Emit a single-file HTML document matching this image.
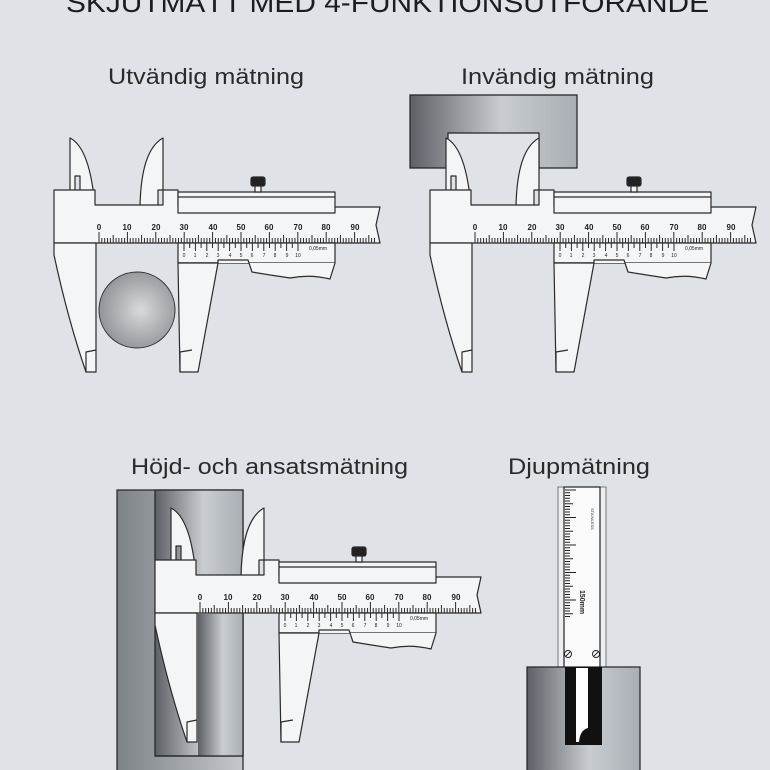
<!DOCTYPE html>
<html><head><meta charset="utf-8"><style>
html,body{margin:0;padding:0;background:#dfe3e7;}
svg{display:block;}
text{font-family:"Liberation Sans",sans-serif;}
</style></head><body>
<svg width="770" height="770" viewBox="0 0 770 770" xmlns="http://www.w3.org/2000/svg">
<defs>
<linearGradient id="gb" x1="0" x2="1" y1="0" y2="0">
<stop offset="0" stop-color="#5d6166"/><stop offset="0.55" stop-color="#c9cdd1"/><stop offset="1" stop-color="#a9aeb3"/></linearGradient>
<linearGradient id="gc" x1="0" x2="1" y1="0" y2="0">
<stop offset="0" stop-color="#7d8287"/><stop offset="1" stop-color="#c4c8cc"/></linearGradient>
<radialGradient id="ball" cx="0.55" cy="0.5" r="0.6">
<stop offset="0" stop-color="#d8dadc"/><stop offset="1" stop-color="#8a8e92"/></radialGradient>
<g id="cal" stroke="#2a2a2a" stroke-width="1.2" fill="#f4f5f6" stroke-linejoin="round">
<path d="M70,192 L70,138 Q90,148 95,207 L80,207 L80,176 L75,176 L75,192 Z"/>
<path d="M140,207 Q141,150 163,138 L163,190 L158,190 L158,207 Z"/>
<path d="M54,190 L95,190 L95,205 L163,205 L163,190 L178,190 L178,207 L380,207 L376,225 L380,243 L54,243 Z"/>
<rect x="178" y="192" width="157" height="21"/>
<line x1="178" y1="197" x2="335" y2="197"/>
<rect x="178" y="243" width="157" height="20"/>
<path d="M178,263 L218,263 L218,260 L248,260 L252,272 Q270,275 290,278 Q310,274 330,279 L335,263" fill="#f4f5f6"/>
<path d="M178,263 L218,263 L198,372 L180,372 Z"/>
<path class="fj" d="M54,243 L96,243 L96,372 L86,372 Q68,320 54,255 Z"/>
<path d="M86,372 L86,352 L96,350" fill="none"/>
<path d="M180,372 L180,352 L192,350" fill="none"/>
<rect x="251" y="177" width="14" height="9" rx="2" fill="#222"/>
<rect x="255" y="186" width="6" height="6" fill="#f4f5f6"/>
<path class="tk" stroke-width="1" fill="none"/>
</g>
</defs>

<text x="66" y="12" font-size="28" fill="#1d1d1f" textLength="643" lengthAdjust="spacingAndGlyphs">SKJUTMÅTT MED 4-FUNKTIONSUTFÖRANDE</text>
<text x="108" y="84" font-size="22" fill="#2a2a2a" textLength="196" lengthAdjust="spacingAndGlyphs">Utvändig mätning</text>
<text x="461" y="84" font-size="22" fill="#2a2a2a" textLength="193" lengthAdjust="spacingAndGlyphs">Invändig mätning</text>
<text x="131" y="474" font-size="22" fill="#2a2a2a" textLength="277" lengthAdjust="spacingAndGlyphs">Höjd- och ansatsmätning</text>
<text x="508" y="474" font-size="22" fill="#2a2a2a" textLength="142" lengthAdjust="spacingAndGlyphs">Djupmätning</text>

<!-- panel 1 -->
<use href="#cal"/>
<circle cx="137" cy="310" r="38" fill="url(#ball)" stroke="#333" stroke-width="1"/>
<g font-size="8" font-weight="bold" fill="#222" text-anchor="middle">
<text x="99" y="230">0</text><text x="127" y="230">10</text><text x="156" y="230">20</text><text x="184" y="230">30</text><text x="213" y="230">40</text><text x="241" y="230">50</text><text x="269" y="230">60</text><text x="298" y="230">70</text><text x="326" y="230">80</text><text x="355" y="230">90</text>
<g font-size="5" font-weight="normal"><text x="184" y="257">0</text><text x="195" y="257">1</text><text x="207" y="257">2</text><text x="218" y="257">3</text><text x="230" y="257">4</text><text x="241" y="257">5</text><text x="252" y="257">6</text><text x="264" y="257">7</text><text x="275" y="257">8</text><text x="287" y="257">9</text><text x="298" y="257">10</text><text x="318" y="250">0,05mm</text></g>
</g>

<!-- panel 2 -->
<path d="M410,95 L577,95 L577,168 L539,168 L539,133 L448,133 L448,168 L410,168 Z" fill="url(#gb)" stroke="#222" stroke-width="1.2"/>
<use href="#cal" transform="translate(376,0)"/>
<g font-size="8" font-weight="bold" fill="#222" text-anchor="middle" transform="translate(376,0)">
<text x="99" y="230">0</text><text x="127" y="230">10</text><text x="156" y="230">20</text><text x="184" y="230">30</text><text x="213" y="230">40</text><text x="241" y="230">50</text><text x="269" y="230">60</text><text x="298" y="230">70</text><text x="326" y="230">80</text><text x="355" y="230">90</text>
<g font-size="5" font-weight="normal"><text x="184" y="257">0</text><text x="195" y="257">1</text><text x="207" y="257">2</text><text x="218" y="257">3</text><text x="230" y="257">4</text><text x="241" y="257">5</text><text x="252" y="257">6</text><text x="264" y="257">7</text><text x="275" y="257">8</text><text x="287" y="257">9</text><text x="298" y="257">10</text><text x="318" y="250">0,05mm</text></g>
</g>

<!-- panel 3 -->
<rect x="117" y="490" width="126" height="290" fill="url(#gc)" stroke="#222" stroke-width="1.2"/>
<rect x="155" y="490" width="88" height="266" fill="url(#gb)" stroke="#222" stroke-width="1.2"/>
<g transform="translate(101,370)">
<use href="#cal"/>
</g>
<rect x="198" y="614" width="45" height="142" fill="url(#gb)"/>
<path d="M243,614 L243,756 L155,756" stroke="#222" stroke-width="1.2" fill="none"/>
<g font-size="8" font-weight="bold" fill="#222" text-anchor="middle" transform="translate(101,370)">
<text x="99" y="230">0</text><text x="127" y="230">10</text><text x="156" y="230">20</text><text x="184" y="230">30</text><text x="213" y="230">40</text><text x="241" y="230">50</text><text x="269" y="230">60</text><text x="298" y="230">70</text><text x="326" y="230">80</text><text x="355" y="230">90</text>
<g font-size="5" font-weight="normal"><text x="184" y="257">0</text><text x="195" y="257">1</text><text x="207" y="257">2</text><text x="218" y="257">3</text><text x="230" y="257">4</text><text x="241" y="257">5</text><text x="252" y="257">6</text><text x="264" y="257">7</text><text x="275" y="257">8</text><text x="287" y="257">9</text><text x="298" y="257">10</text><text x="318" y="250">0,05mm</text></g>
</g>

<!-- panel 4 -->
<rect x="558" y="487" width="48" height="181" fill="#eceef0" stroke="#777" stroke-width="1"/>
<rect x="564" y="487" width="36" height="181" fill="#fafafa" stroke="#222" stroke-width="1.2"/>
<path id="dt" stroke="#222" stroke-width="1" fill="none"/>
<text x="0" y="0" font-size="7" font-weight="bold" fill="#222" transform="translate(580,590) rotate(90)">150mm</text>
<text x="0" y="0" font-size="4" fill="#333" transform="translate(591,508) rotate(90)">STAINLESS</text>
<circle cx="568" cy="654" r="3.5" fill="#fff" stroke="#222"/><line x1="566" y1="656" x2="570" y2="652" stroke="#222"/>
<circle cx="596" cy="654" r="3.5" fill="#fff" stroke="#222"/><line x1="594" y1="656" x2="598" y2="652" stroke="#222"/>
<rect x="527" y="667" width="113" height="110" fill="url(#gb)" stroke="#222" stroke-width="1.2"/>
<rect x="565" y="667" width="37" height="78" fill="#111"/>
<path d="M576,668 L588,668 L588,728 Q580,730 579,742 L576,742 Z" fill="#fff"/>
</svg>
<script>
(function(){
 var d="";
 for(var i=0;i<=97;i++){var x=99+i*2.84;var h=i%10==0?11:(i%5==0?8:5);d+="M"+x.toFixed(2)+",243V"+(243-h);}
 for(var j=0;j<=20;j++){var x2=184+j*5.7;var h2=j%2==0?8:5;d+="M"+x2.toFixed(2)+",243V"+(243+h2);}
 var p=document.querySelector("#cal .tk"); if(p)p.setAttribute("d",d);
 var e="";
 for(var k=0;k<=46;k++){var y=490+k*2.75;var w=k%10==0?11:(k%5==0?8:5);e+="M565,"+y.toFixed(2)+"H"+(565+w);}
 document.getElementById("dt").setAttribute("d",e);
})();
</script>
</body></html>
